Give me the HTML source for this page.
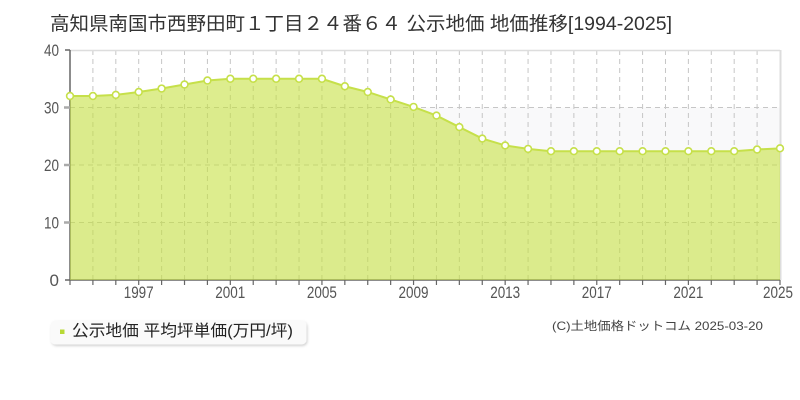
<!DOCTYPE html>
<html><head><meta charset="utf-8">
<style>
html,body{margin:0;padding:0;background:#fff;}
svg{display:block;}
text{font-family:"Liberation Sans","Noto Sans CJK JP",sans-serif;}
</style></head>
<body>
<svg width="800" height="400" viewBox="0 0 800 400" xmlns="http://www.w3.org/2000/svg">
<defs>
<filter id="sh" x="-10%" y="-30%" width="120%" height="170%">
<feDropShadow dx="1" dy="1.5" stdDeviation="1.2" flood-color="#000" flood-opacity="0.18"/>
</filter>
</defs>
<rect width="800" height="400" fill="#fff"/>
<!-- title -->
<text x="50" y="30" font-size="19" fill="#333" textLength="622" lengthAdjust="spacingAndGlyphs">高知県南国市西野田町１丁目２４番６４ 公示地価 地価推移[1994-2025]</text>

<!-- bands -->
<rect x="70" y="107.5" width="710" height="57.5" fill="#f9f9fa"/>
<rect x="70" y="222.5" width="710" height="57.5" fill="#f9f9fa"/>

<!-- grid -->
<g stroke="#c6c6c6" stroke-width="1" stroke-dasharray="5,4" fill="none">
<path d="M70 107.5H780M70 165H780M70 222.5H780"/>
<path d="M92.9 50V280M115.81 50V280M138.71 50V280M161.61 50V280M184.52 50V280M207.42 50V280M230.32 50V280M253.23 50V280M276.13 50V280M299.03 50V280M321.94 50V280M344.84 50V280M367.74 50V280M390.65 50V280M413.55 50V280M436.45 50V280M459.35 50V280M482.26 50V280M505.16 50V280M528.06 50V280M550.97 50V280M573.87 50V280M596.77 50V280M619.68 50V280M642.58 50V280M665.48 50V280M688.39 50V280M711.29 50V280M734.19 50V280M757.1 50V280"/>
</g>
<!-- borders -->
<path d="M70 50.5H780" stroke="#dddddd" stroke-width="1.5"/>
<path d="M780.5 50V280" stroke="#dddddd" stroke-width="2"/>
<!-- axes -->
<path d="M70 50V280H780" stroke="#666" stroke-width="1.5" fill="none"/>
<path d="M65 50H70M65 280H70" stroke="#666" stroke-width="1.5"/>
<path d="M64 107.5H70M64 165H70M64 222.5H70" stroke="#aaa" stroke-width="2.5"/>

<!-- area -->
<path d="M70 96 L92.9 96 L115.81 94.85 L138.71 91.98 L161.61 88.53 L184.52 84.5 L207.42 80.48 L230.32 78.75 L253.23 78.75 L276.13 78.75 L299.03 78.75 L321.94 78.75 L344.84 86.23 L367.74 91.98 L390.65 99.45 L413.55 106.9 L436.45 115.55 L459.35 127.05 L482.26 138.55 L505.16 145.45 L528.06 148.9 L550.97 151.2 L573.87 151.2 L596.77 151.2 L619.68 151.2 L642.58 151.2 L665.48 151.2 L688.39 151.2 L711.29 151.2 L734.19 151.2 L757.1 149.48 L780 148.33 L780 280 L70 280 Z" fill="rgb(196,224,60)" fill-opacity="0.58"/>
<path d="M70 96 L92.9 96 L115.81 94.85 L138.71 91.98 L161.61 88.53 L184.52 84.5 L207.42 80.48 L230.32 78.75 L253.23 78.75 L276.13 78.75 L299.03 78.75 L321.94 78.75 L344.84 86.23 L367.74 91.98 L390.65 99.45 L413.55 106.9 L436.45 115.55 L459.35 127.05 L482.26 138.55 L505.16 145.45 L528.06 148.9 L550.97 151.2 L573.87 151.2 L596.77 151.2 L619.68 151.2 L642.58 151.2 L665.48 151.2 L688.39 151.2 L711.29 151.2 L734.19 151.2 L757.1 149.48 L780 148.33" fill="none" stroke="#c6e04a" stroke-width="2"/>

<!-- x ticks -->
<path d="M70 280V285M92.9 280V285M115.81 280V285M138.71 280V285M161.61 280V285M184.52 280V285M207.42 280V285M230.32 280V285M253.23 280V285M276.13 280V285M299.03 280V285M321.94 280V285M344.84 280V285M367.74 280V285M390.65 280V285M413.55 280V285M436.45 280V285M459.35 280V285M482.26 280V285M505.16 280V285M528.06 280V285M550.97 280V285M573.87 280V285M596.77 280V285M619.68 280V285M642.58 280V285M665.48 280V285M688.39 280V285M711.29 280V285M734.19 280V285M757.1 280V285M780 280V285" stroke="#666" stroke-width="1.2"/>

<!-- points -->
<g fill="#fff" stroke="#c6e04a" stroke-width="1.6">
<circle cx="70" cy="96" r="3.4"/><circle cx="92.9" cy="96" r="3.4"/><circle cx="115.81" cy="94.85" r="3.4"/><circle cx="138.71" cy="91.98" r="3.4"/><circle cx="161.61" cy="88.53" r="3.4"/><circle cx="184.52" cy="84.5" r="3.4"/><circle cx="207.42" cy="80.48" r="3.4"/><circle cx="230.32" cy="78.75" r="3.4"/><circle cx="253.23" cy="78.75" r="3.4"/><circle cx="276.13" cy="78.75" r="3.4"/><circle cx="299.03" cy="78.75" r="3.4"/><circle cx="321.94" cy="78.75" r="3.4"/><circle cx="344.84" cy="86.23" r="3.4"/><circle cx="367.74" cy="91.98" r="3.4"/><circle cx="390.65" cy="99.45" r="3.4"/><circle cx="413.55" cy="106.9" r="3.4"/><circle cx="436.45" cy="115.55" r="3.4"/><circle cx="459.35" cy="127.05" r="3.4"/><circle cx="482.26" cy="138.55" r="3.4"/><circle cx="505.16" cy="145.45" r="3.4"/><circle cx="528.06" cy="148.9" r="3.4"/><circle cx="550.97" cy="151.2" r="3.4"/><circle cx="573.87" cy="151.2" r="3.4"/><circle cx="596.77" cy="151.2" r="3.4"/><circle cx="619.68" cy="151.2" r="3.4"/><circle cx="642.58" cy="151.2" r="3.4"/><circle cx="665.48" cy="151.2" r="3.4"/><circle cx="688.39" cy="151.2" r="3.4"/><circle cx="711.29" cy="151.2" r="3.4"/><circle cx="734.19" cy="151.2" r="3.4"/><circle cx="757.1" cy="149.48" r="3.4"/><circle cx="780" cy="148.33" r="3.4"/>
</g>

<!-- y labels -->
<g font-size="17" fill="#555" text-anchor="end">
<text x="59" y="56" textLength="15" lengthAdjust="spacingAndGlyphs">40</text>
<text x="59" y="113.5" textLength="15" lengthAdjust="spacingAndGlyphs">30</text>
<text x="59" y="171" textLength="15" lengthAdjust="spacingAndGlyphs">20</text>
<text x="59" y="228.5" textLength="15" lengthAdjust="spacingAndGlyphs">10</text>
<text x="59" y="286">0</text>
</g>
<!-- x labels -->
<g font-size="17" fill="#555">
<text x="123.7" y="298" textLength="30" lengthAdjust="spacingAndGlyphs">1997</text>
<text x="215.3" y="298" textLength="30" lengthAdjust="spacingAndGlyphs">2001</text>
<text x="306.9" y="298" textLength="30" lengthAdjust="spacingAndGlyphs">2005</text>
<text x="398.5" y="298" textLength="30" lengthAdjust="spacingAndGlyphs">2009</text>
<text x="490.2" y="298" textLength="30" lengthAdjust="spacingAndGlyphs">2013</text>
<text x="581.8" y="298" textLength="30" lengthAdjust="spacingAndGlyphs">2017</text>
<text x="673.4" y="298" textLength="30" lengthAdjust="spacingAndGlyphs">2021</text>
<text x="763" y="298" textLength="30" lengthAdjust="spacingAndGlyphs">2025</text>
</g>

<!-- legend -->
<rect x="50.5" y="320.5" width="256" height="24" rx="5" ry="5" fill="#fafafa" filter="url(#sh)"/>
<rect x="60" y="329.5" width="4.5" height="4.5" fill="#b8d935"/>
<text x="72" y="336" font-size="16" fill="#222" textLength="221" lengthAdjust="spacingAndGlyphs">公示地価 平均坪単価(万円/坪)</text>

<!-- copyright -->
<text x="552" y="330" font-size="12" fill="#444" textLength="211" lengthAdjust="spacingAndGlyphs">(C)土地価格ドットコム 2025-03-20</text>
</svg>
</body></html>
